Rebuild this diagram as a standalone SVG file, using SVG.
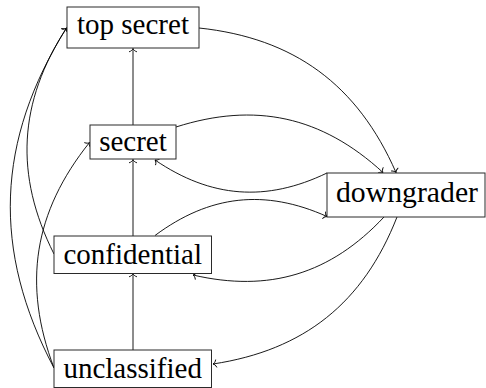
<svg xmlns="http://www.w3.org/2000/svg" width="486" height="388" viewBox="0 0 486 388">
<style>
.box{fill:#fff;stroke:#2a2a2a;stroke-width:1}
.lbl{font-family:"Liberation Serif","DejaVu Serif",serif;font-size:29px;fill:#000;text-anchor:middle}
.e{fill:none;stroke:#000;stroke-width:0.9;marker-end:url(#arr)}
</style>
<defs>
<marker id="arr" markerUnits="userSpaceOnUse" markerWidth="10" markerHeight="10" viewBox="-5 -5 10 10" refX="0" refY="0" orient="auto">
<path d="M-3.2,-3.6 C-2.6,-1.6 -1.2,-0.4 0,0 C-1.2,0.4 -2.6,1.6 -3.2,3.6" fill="none" stroke="#000" stroke-width="0.9" stroke-linecap="round"/>
</marker>
</defs>
<g id="connectors">
<line class="e" x1="133" y1="125" x2="133" y2="48.5"/>
<line class="e" x1="133" y1="236" x2="133" y2="159.5"/>
<line class="e" x1="133" y1="350" x2="133" y2="273.5"/>
<path class="e" d="M199,28 C294,38 357.5,84.6 396,172.5"/>
<path class="e" d="M176,127 C255,101.8 321.6,116.1 383,172.5"/>
<path class="e" d="M327,173 C266.2,202.3 210.8,198 155,160"/>
<path class="e" d="M155,235.5 C209.6,194.9 264.9,188.7 327,216.5"/>
<path class="e" d="M384,217 C330.6,274 269.1,292.7 193,275"/>
<path class="e" d="M397,217 C363.4,302.9 304.2,350.2 213,364"/>
<path class="e" d="M54,368 C-8.2,250.2 -4,140.7 66.5,28"/>
<path class="e" d="M54,254 C14.2,174.8 18.4,102.1 66.5,28"/>
<path class="e" d="M54,368 C22.2,283.9 33.9,212 89.5,142.5"/>
</g>
<g id="top-secret">
<rect class="box" x="67" y="7" width="132" height="41"/>
<text class="lbl" x="133" y="33.5">top secret</text>
</g>
<g id="secret">
<rect class="box" x="90" y="125" width="86" height="34"/>
<text class="lbl" x="133" y="150.5">secret</text>
</g>
<g id="confidential">
<rect class="box" x="54" y="236" width="157.5" height="37.5"/>
<text class="lbl" x="132.7" y="264">confidential</text>
</g>
<g id="unclassified">
<rect class="box" x="54" y="350" width="157.5" height="37.5"/>
<text class="lbl" x="132.7" y="377.5">unclassified</text>
</g>
<g id="downgrader">
<rect class="box" x="327" y="173" width="158" height="44"/>
<text class="lbl" x="407" y="202" textLength="142" lengthAdjust="spacingAndGlyphs">downgrader</text>
</g>
</svg>
